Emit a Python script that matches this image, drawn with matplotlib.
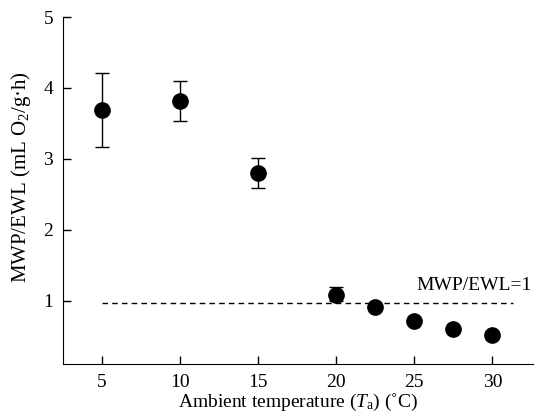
import numpy as np
import matplotlib
matplotlib.use('Agg')
import matplotlib.pyplot as plt

plt.rcParams['font.family'] = ['Liberation Serif', 'DejaVu Serif']
plt.rcParams['mathtext.fontset'] = 'custom'
plt.rcParams['mathtext.rm'] = 'Liberation Serif'
plt.rcParams['mathtext.it'] = 'Liberation Serif:italic'

# data
temp = [5, 10, 15, 20, 22.5, 25, 27.5, 30]
ratio = [3.69, 3.82, 2.80, 1.08, 0.91, 0.72, 0.61, 0.52]
err_up = [0.52, 0.28, 0.21, 0.11, 0, 0, 0, 0]
err_dn = [0.52, 0.28, 0.21, 0.08, 0, 0, 0, 0]
ref_x = [5, 31.3]
ref_y = [0.97, 0.97]

fig = plt.figure(figsize=(5.35, 4.18), dpi=100)
ax = fig.add_axes([63/535, 54/418, 470/535, 347/418])

ax.plot(ref_x, ref_y, 'k--', lw=1, dashes=(4, 3))
ax.errorbar(temp, ratio, yerr=[err_dn, err_up], fmt='o', color='k',
            ms=11, capsize=5, elinewidth=1, capthick=1)
ax.text(32.5, 1.1, 'MWP/EWL=1', ha='right', va='bottom', fontsize=14)

ax.set_xlim(2.5, 32.6)
ax.set_ylim(0.11, 5)
ax.set_xticks([5, 10, 15, 20, 25, 30])
ax.set_yticks([1, 2, 3, 4, 5])
ax.spines['top'].set_visible(False)
ax.spines['right'].set_visible(False)
ax.tick_params(direction='in', length=6, labelsize=14, width=1, pad=7)
ax.set_xlabel('Ambient temperature ($\\mathit{T}_\\mathrm{a}$) (˚C)', fontsize=14, labelpad=1)
ax.set_ylabel('MWP/EWL (mL O$_2$/g·h)', fontsize=15)
ax.yaxis.set_label_coords(-0.064, 0.54)

plt.savefig('out.png', dpi=100)
